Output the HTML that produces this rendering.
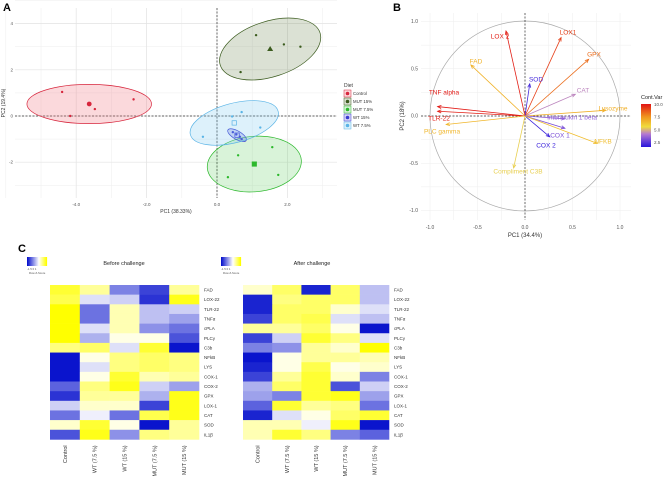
<!DOCTYPE html>
<html><head><meta charset="utf-8"><style>
body{margin:0;background:#fff;font-family:"Liberation Sans",sans-serif}
svg{display:block}
</style></head><body>
<svg id="fig" width="669" height="481" viewBox="0 0 669 481" xmlns="http://www.w3.org/2000/svg" font-family="Liberation Sans, sans-serif">
<text x="3" y="11" font-size="11" font-weight="bold">A</text>
<text x="393" y="11" font-size="11" font-weight="bold">B</text>
<text x="18" y="252" font-size="11" font-weight="bold">C</text>
<g id="pA"></g>
<g id="pB"></g>
<g id="pC"></g>
</svg>
<script>
const NS="http://www.w3.org/2000/svg";
function mk(p,t,a,txt){const e=document.createElementNS(NS,t);for(const k in a)e.setAttribute(k,a[k]);if(txt!==undefined)e.textContent=txt;p.appendChild(e);return e;}

// ---------- Panel A data ----------
const dietNames=["Control","MUT 15%","MUT 7.5%","WT 15%","WT 7.5%"];
const dietColors=["#d7263d","#3b5b1e","#2cb82c","#3a3ad0","#5ab4e6"];
const dietFill=["rgba(240,120,130,0.28)","rgba(90,120,60,0.22)","rgba(80,200,80,0.22)","rgba(90,90,220,0.25)","rgba(120,200,240,0.25)"];
const centroidX=[-3.63,1.51,1.06,0.57,0.49];
const centroidY=[0.52,2.9,-2.08,-0.83,-0.3];
const pointsX=[[-4.4,-4.17,-3.47,-2.37],[1.11,1.9,2.37,0.67],[0.6,1.57,1.74,0.31],[0.45,0.55,0.65,0.7],[0.7,0.43,1.23,-0.4]];
const pointsY=[[1.04,0.0,0.3,0.72],[3.5,3.1,3.0,1.9],[-1.7,-1.35,-2.55,-2.65],[-0.7,-0.8,-0.9,-1.0],[0.17,-0.02,-0.5,-0.9]];
const ellRx=[1.77,1.49,1.34,0.3,1.29];
const ellRy=[0.85,1.2,1.2,0.18,0.85];
const ellRot=[0,-18,-5,30,-15];
const aXTicks=[-4,-2,0,2];
const aYTicks=[4,2,0,-2];

(function(){
 const g=document.getElementById('pA');
 const x=v=>217+v*35.2, y=v=>116-v*23.1;
 const L=15,R=337,T=8,B=198;
 for(let v=-6;v<=3;v++){mk(g,'line',{x1:x(v),x2:x(v),y1:T,y2:B,stroke:'#eee','stroke-width':0.5});}
 for(let v=-3;v<=5;v++){mk(g,'line',{x1:L,x2:R,y1:y(v),y2:y(v),stroke:'#eee','stroke-width':0.5});}
 aXTicks.forEach(v=>{mk(g,'line',{x1:x(v),x2:x(v),y1:T,y2:B,stroke:'#e3e3e3','stroke-width':0.7});
  const t=mk(g,'text',{x:x(v),y:206,'font-size':4.5,'text-anchor':'middle',fill:'#555'},v.toFixed(1));
  });
 aYTicks.forEach(v=>{mk(g,'line',{x1:L,x2:R,y1:y(v),y2:y(v),stroke:'#e3e3e3','stroke-width':0.7});
  const t=mk(g,'text',{x:13,y:y(v)+1.5,'font-size':4.5,'text-anchor':'end',fill:'#555'},v);
  });
 mk(g,'line',{x1:x(0),x2:x(0),y1:T,y2:B,stroke:'#333','stroke-width':0.7,'stroke-dasharray':'2,1.5'});
 mk(g,'line',{x1:L,x2:R,y1:y(0),y2:y(0),stroke:'#333','stroke-width':0.7,'stroke-dasharray':'2,1.5'});
 dietNames.forEach((n,i)=>{
  const e=mk(g,'ellipse',{cx:0,cy:0,rx:ellRx[i]*35.2,ry:ellRy[i]*23.1,fill:dietFill[i],stroke:dietColors[i],'stroke-width':0.7,
   transform:`translate(${x(centroidX[i])},${y(centroidY[i])}) rotate(${ellRot[i]})`});
  
  pointsX[i].forEach((px,j)=>{const c=mk(g,'circle',{cx:x(px),cy:y(pointsY[i][j]),r:1.2,fill:dietColors[i]});
   });
  const cx=x(centroidX[i]),cy=y(centroidY[i]);let m;
  if(i==1)m=mk(g,'polygon',{points:`${cx},${cy-3} ${cx-3},${cy+2} ${cx+3},${cy+2}`,fill:dietColors[i]});
  else if(i==0)m=mk(g,'circle',{cx:cx,cy:cy,r:2.4,fill:dietColors[i]});
  else m=mk(g,'rect',{x:cx-2.2,y:cy-2.2,width:4.4,height:4.4,fill:i>2?'none':dietColors[i],stroke:dietColors[i],'stroke-width':0.7});
  
 });
 let t=mk(g,'text',{x:176,y:213,'font-size':5,'text-anchor':'middle',fill:'#333'},'PC1 (38.33%)');
 
 t=mk(g,'text',{x:0,y:0,'font-size':5,'text-anchor':'middle',fill:'#333',transform:'translate(5,103) rotate(-90)'},'PC2 (19.4%)');
 
 t=mk(g,'text',{x:344,y:87,'font-size':5,fill:'#333'},'Diet');
 dietNames.forEach((n,i)=>{const yy=90+i*8;
  const r=mk(g,'rect',{x:344,y:yy,width:7,height:7,fill:dietFill[i],stroke:dietColors[i],'stroke-width':0.5});
  
  mk(g,'circle',{cx:347.5,cy:yy+3.5,r:1.8,fill:dietColors[i]});
  mk(g,'text',{x:353,y:yy+5,'font-size':4.3,fill:'#333'},n);});
})();

// ---------- Panel B data ----------
const varNames=["LOX 2","LOX1","GPX","FAD","SOD","CAT","TNF alpha","TLR-22","Lysozyme","Interleukin 1 beta","PLC gamma","COX 1","COX 2","NFKB","Compliment C3B"];
const varPC1=[-0.2,0.38,0.67,-0.57,0.05,0.53,-0.92,-0.92,0.85,0.42,-0.83,0.42,0.26,0.76,-0.12];
const varPC2=[0.9,0.83,0.6,0.54,0.34,0.23,0.1,0.05,0.06,-0.03,-0.09,-0.13,-0.22,-0.29,-0.55];
const varContrib=[9.8,9.2,8.3,6.7,2.0,4.2,9.9,9.8,6.8,3.3,6.6,3.0,1.8,6.4,5.3];
const bTicks=[-1,-0.5,0,0.5,1];
// label placement (layout only, pixel centres)
const labelPosX=[500,568,594,476,536,583,444,439,613,572,442,560,546,603,518];
const labelPosY=[36,32,54,61,79,90,92,118,108,117,131,135,145,141,171];
function contribColor(v){
 const s=[[1.5,[40,20,220]],[4,[180,120,210]],[5.5,[240,220,60]],[7.5,[240,150,30]],[10,[225,20,20]]];
 if(v<=s[0][0])return `rgb(${s[0][1]})`;
 for(let i=1;i<s.length;i++){if(v<=s[i][0]){const f=(v-s[i-1][0])/(s[i][0]-s[i-1][0]);
  const c=s[i-1][1].map((a,k)=>Math.round(a+(s[i][1][k]-a)*f));return `rgb(${c})`;}}
 return `rgb(${s[4][1]})`;}
(function(){
 const g=document.getElementById('pB');
 const x=v=>525+v*95, y=v=>116-v*94.5;
 const L=421,R=631,T=13,B=220;
 for(let v=-1;v<=1.01;v+=0.25){mk(g,'line',{x1:x(v),x2:x(v),y1:T,y2:B,stroke:'#eee','stroke-width':0.5});mk(g,'line',{x1:L,x2:R,y1:y(v),y2:y(v),stroke:'#eee','stroke-width':0.5});}
 bTicks.forEach(v=>{
  let t=mk(g,'text',{x:x(v),y:229,'font-size':5,'text-anchor':'middle',fill:'#555'},v.toFixed(1));
  t=mk(g,'text',{x:418,y:y(v)+1.7,'font-size':5,'text-anchor':'end',fill:'#555'},v.toFixed(1));});
 mk(g,'circle',{cx:x(0),cy:y(0),r:95,fill:'none',stroke:'#aaa','stroke-width':0.7});
 mk(g,'line',{x1:x(0),x2:x(0),y1:T,y2:B,stroke:'#333','stroke-width':0.7,'stroke-dasharray':'2,1.5'});
 mk(g,'line',{x1:L,x2:R,y1:y(0),y2:y(0),stroke:'#333','stroke-width':0.7,'stroke-dasharray':'2,1.5'});
 varNames.forEach((n,i)=>{const c=contribColor(varContrib[i]);
  const x2=x(varPC1[i]),y2=y(varPC2[i]);
  const l=mk(g,'line',{x1:x(0),y1:y(0),x2:x2,y2:y2,stroke:c,'stroke-width':0.8});
  
  const a=Math.atan2(y2-y(0),x2-x(0));
  const p=[[x2,y2],[x2-4*Math.cos(a-0.4),y2-4*Math.sin(a-0.4)],[x2-4*Math.cos(a+0.4),y2-4*Math.sin(a+0.4)]];
  mk(g,'polyline',{points:`${p[1]} ${p[0]} ${p[2]}`,fill:'none',stroke:c,'stroke-width':0.8});
  const t=mk(g,'text',{x:labelPosX[i],y:labelPosY[i]+2.3,'font-size':6.5,'text-anchor':'middle',fill:c},n);
  
 });
 let t=mk(g,'text',{x:525,y:237,'font-size':6,'text-anchor':'middle',fill:'#333'},'PC1 (34.4%)');
 t=mk(g,'text',{x:0,y:0,'font-size':6,'text-anchor':'middle',fill:'#333',transform:'translate(404,116) rotate(-90)'},'PC2 (18%)');
 t=mk(g,'text',{x:641,y:99,'font-size':5.5,fill:'#222'},'Cont.Var');
 const defs=mk(g,'defs',{});const gr=mk(defs,'linearGradient',{id:'cb',x1:0,y1:1,x2:0,y2:0});
 [[0,'rgb(40,20,220)'],[0.3,'rgb(180,120,210)'],[0.47,'rgb(240,220,60)'],[0.7,'rgb(240,150,30)'],[1,'rgb(225,20,20)']].forEach(s=>mk(gr,'stop',{offset:s[0],'stop-color':s[1]}));
 const cb=mk(g,'rect',{x:641,y:104,width:10,height:43,fill:'url(#cb)'});
 [[10,'10.0'],[7.5,'7.5'],[5,'5.0'],[2.5,'2.5']].forEach(s=>{const yy=104+(10-s[0])/8.5*43;mk(g,'text',{x:654,y:yy+2,'font-size':4.5,fill:'#555'},s[1]);});
})();

// ---------- Panel C data ----------
const genes=["FAD","LOX-22","TLR-22","TNFα","cPLA","PLCγ","C3b","NFkB","LYS","COX-1","COX-2","GPX","LOX-1","CAT","SOD","IL1β"];
const groups=["Control","WT (7.5 %)","WT (15 %)","MUT (7.5 %)","MUT (15 %)"];
const beforeZ=[[0.8,0.4,-0.8,-1.2,0.4],[0.7,-0.2,-0.3,-1.3,0.9],[1,-0.9,0.3,-0.4,-0.3],[1,-0.9,0.3,-0.4,-0.6],[1,-0.2,0.3,-0.7,-0.9],[1,-0.5,0.1,0.1,-1.1],[0.5,0.6,-0.2,0.8,-1.5],[-1.5,0.1,0.5,0.6,0.5],[-1.5,-0.2,0.5,0.6,0.5],[-1.5,0.1,0.8,0.3,0.4],[-1.0,0.5,0.9,-0.3,-0.6],[-1.3,0.4,0.4,-0.5,0.9],[-0.3,0.2,0.2,-1.2,0.9],[-0.9,-0.1,-0.9,0.7,0.9],[0.2,0.8,0.1,-1.5,0.4],[-1.1,0.9,-0.7,0.5,0.4]];
const afterZ=[[0.2,0.6,-1.4,0.6,-0.4],[-1.4,0.5,0.6,0.6,-0.4],[-1.4,0.6,0.6,0.2,-0.2],[-1.2,0.6,0.7,-0.2,-0.4],[0.4,0.4,0.6,0.1,-1.5],[-1.2,-0.3,0.8,0.5,-0.2],[-0.8,-0.7,0.4,0.2,1],[-1.5,0.1,0.4,0.4,0.3],[-1.4,0.1,0.7,0.1,0.2],[-1.2,0.4,0.8,0.2,-0.8],[-0.5,0.6,0.8,-1.1,-0.3],[-0.6,-0.8,0.8,0.9,-0.6],[-1.0,0.8,0.4,0.5,-0.9],[-1.4,-0.2,0.1,0.6,0.8],[0.3,0.3,-0.1,0.9,-1.5],[0.3,0.8,0.5,-0.8,-1.0]];
function zColor(z){
 if(z<0){const f=Math.min(1,-z/1.5);return `rgb(${Math.round(255-245*f)},${Math.round(255-235*f)},${Math.round(255-50*f)})`;}
 const f=Math.min(1,z/1);return `rgb(255,255,${Math.round(255*(1-f))})`;}
function heat(x0,w,title,tx,lx,data,name){
 const g=mk(document.getElementById('pC'),'g',{});
 
 const y0=285,rh=9.65;
 data.forEach((row,r)=>row.forEach((z,c)=>{const e=mk(g,'rect',{x:x0+c*w,y:y0+r*rh,width:w+0.3,height:rh+0.3,fill:zColor(z)});
  }));
 genes.forEach((n,r)=>{const t=mk(g,'text',{x:x0+5*w+5,y:y0+r*rh+6.5,'font-size':4.5,fill:'#333'},n);
  });
 groups.forEach((n,c)=>{const t=mk(g,'text',{x:0,y:0,'font-size':5.5,'text-anchor':'end',fill:'#333',transform:`translate(${x0+c*w+w/2+2},${y0+16*rh+6}) rotate(-90)`},n);
  });
 let t=mk(g,'text',{x:tx,y:265,'font-size':5.5,'text-anchor':'middle',fill:'#222'},title);
 
 const k=mk(g,'g',{});
 for(let i=0;i<20;i++)mk(k,'rect',{x:lx+i,y:257,width:1.1,height:9,fill:zColor(-1.5+i*2.5/19)});
 mk(k,'text',{x:lx,y:270,'font-size':2.8,fill:'#555'},'-1.5  0  1');
 mk(k,'text',{x:lx+2,y:274,'font-size':2.8,fill:'#555'},'Row Z-Score');
}
heat(50,29.8,'Before challenge',124,27,beforeZ,'heatmap-before');
heat(243,29.2,'After challenge',312,221,afterZ,'heatmap-after');
</script>
</body></html>
